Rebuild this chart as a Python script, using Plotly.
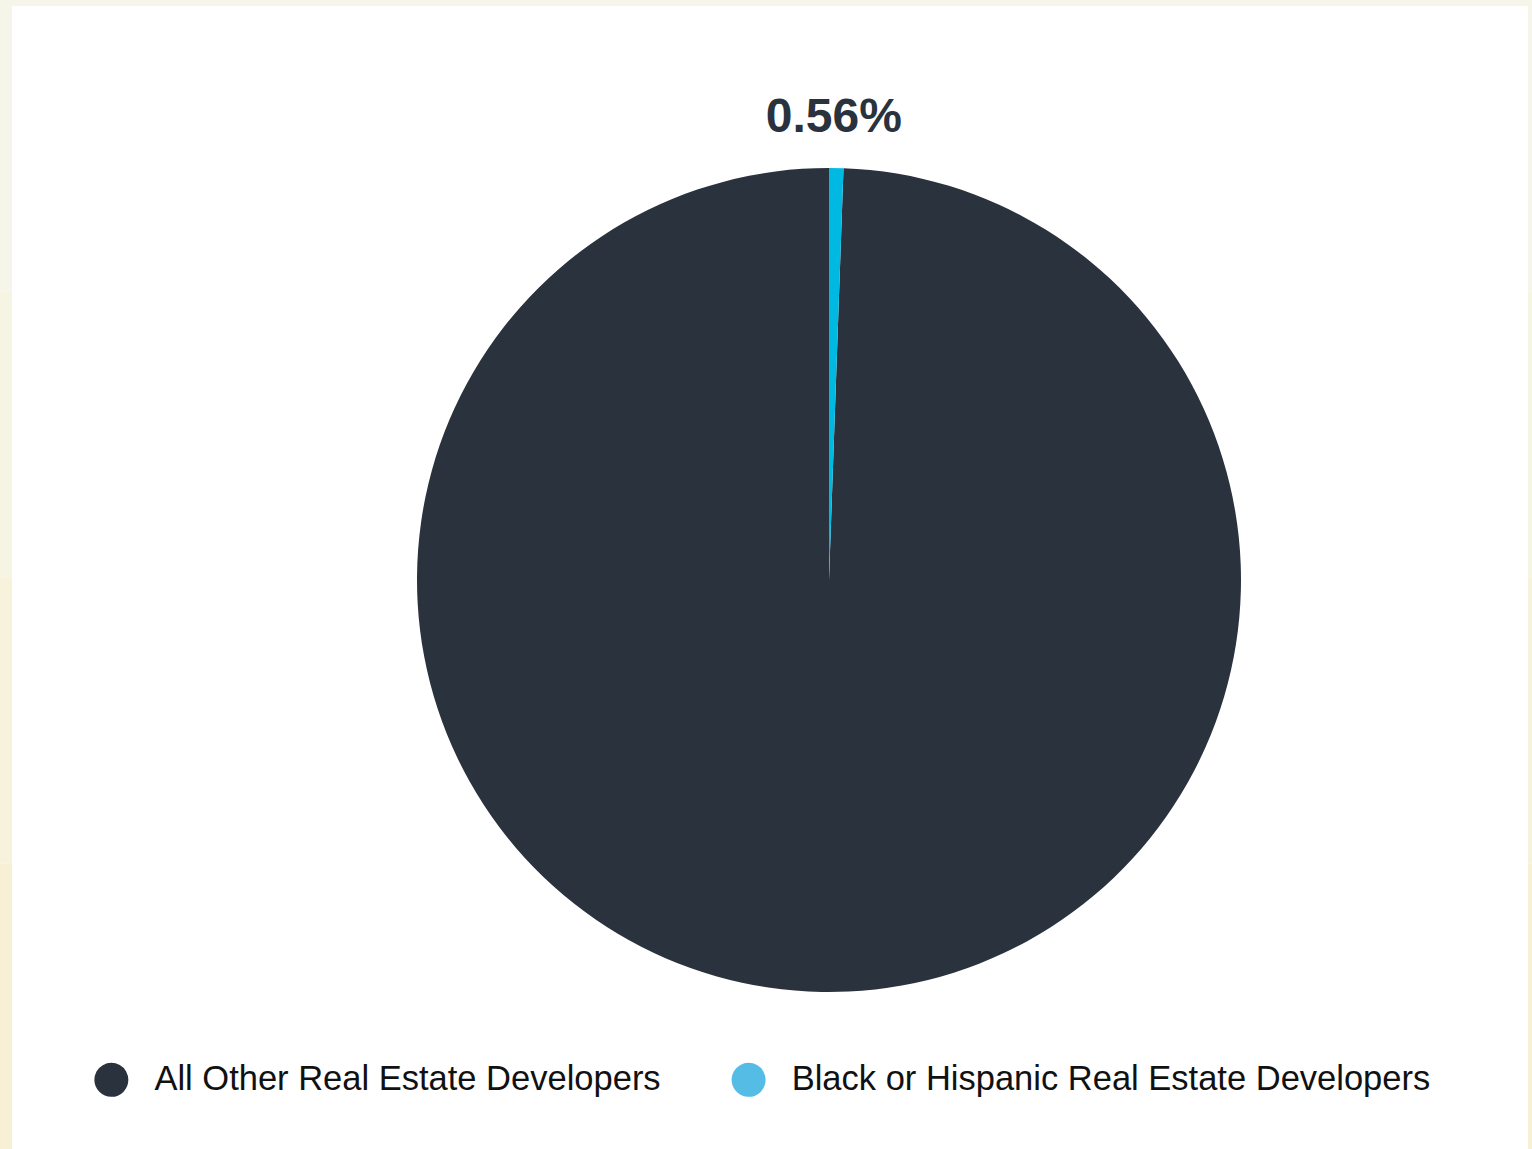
import plotly.graph_objects as go

# ---- data ----
categories = ["All Other Real Estate Developers", "Black or Hispanic Real Estate Developers"]
values = [99.44, 0.56]
slice_colors = ["#2a323d", "#00b9e3"]
legend_colors = ["#2a323d", "#55bce6"]

W, H = 1532, 1149

def px(x):
    return x / W

def py(y):
    return 1 - y / H

rotation = values[1] / sum(values) * 360
label = (f'<span style="font-size:75px">&nbsp;</span>{values[1]:.2f}%'
         f'<span style="font-size:40px">&nbsp;</span>')

# pie centre (579) is pushed down by half the title height (~41px) inside its domain
dom_cy = 579 - 41

fig = go.Figure()
fig.add_trace(go.Pie(
    labels=categories,
    values=values,
    sort=False,
    direction="clockwise",
    rotation=rotation,
    marker=dict(colors=slice_colors, line=dict(width=0)),
    textinfo="none",
    title=dict(text=label, position="top center",
               font=dict(family="Liberation Sans", size=48, color="#2a323d", weight="bold")),
    showlegend=False,
    hoverinfo="label+percent",
    domain=dict(x=[px(829 - 412), px(829 + 412)], y=[py(dom_cy + 500), py(dom_cy - 500)]),
))

for name, col in zip(categories, legend_colors):
    fig.add_trace(go.Scatter(
        x=[None], y=[None], mode="markers",
        marker=dict(color="rgba(0,0,0,0)", size=2),
        name=(f'<span style="color:{col};font-size:79px;baseline-shift:-12px">●</span>'
              f'&nbsp;&nbsp;{name}&nbsp;&nbsp;'),
        showlegend=True,
    ))

shapes = []
shapes.append(dict(type="rect", xref="paper", yref="paper", x0=0, x1=1, y0=py(6), y1=1,
                   fillcolor="#f5f6e9", line=dict(width=0), layer="below"))
bands = ["#f5f6e9", "#f6f4e2", "#f7f2db", "#f8f0d4"]
n = len(bands)
for i, c in enumerate(bands):
    y0 = 6 + (H - 6) * i / n
    y1 = 6 + (H - 6) * (i + 1) / n
    shapes.append(dict(type="rect", xref="paper", yref="paper", x0=0, x1=px(12), y0=py(y1), y1=py(y0),
                       fillcolor=c, line=dict(width=0), layer="below"))
    shapes.append(dict(type="rect", xref="paper", yref="paper", x0=px(1528), x1=1, y0=py(y1), y1=py(y0),
                       fillcolor=c, line=dict(width=0), layer="below"))

fig.update_layout(
    width=W, height=H,
    margin=dict(l=0, r=0, t=0, b=0, pad=0, autoexpand=False),
    paper_bgcolor="white",
    plot_bgcolor="rgba(0,0,0,0)",
    xaxis=dict(visible=False),
    yaxis=dict(visible=False),
    shapes=shapes,
    legend=dict(orientation="h", x=px(751), xanchor="center", y=py(1077), yanchor="middle",
                font=dict(family="Liberation Sans", size=34.5, color="#111111"),
                bgcolor="rgba(0,0,0,0)", itemwidth=30),
)

fig.write_html("out.html", config={"displayModeBar": False},
               post_script="document.body.style.margin='0';document.body.style.overflow='hidden';")
